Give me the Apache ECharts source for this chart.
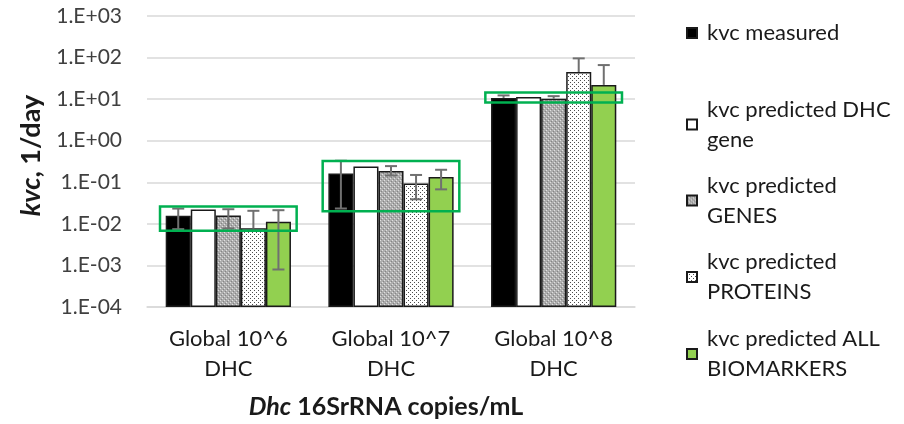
<!DOCTYPE html>
<html><head><meta charset="utf-8">
<script src="https://cdn.jsdelivr.net/npm/echarts@6/dist/echarts.min.js"></script>
<style>html,body{margin:0;padding:0;background:#fff}#c{width:904px;height:424px}</style>
</head><body><div id="c"></div>
<script>
// ---- data ----
const categories = ['Global 10^6\nDHC', 'Global 10^7\nDHC', 'Global 10^8\nDHC'];
const seriesNames = ['kvc measured', 'kvc predicted DHC gene', 'kvc predicted GENES', 'kvc predicted PROTEINS', 'kvc predicted ALL BIOMARKERS'];
const legendLabels = ['kvc measured', 'kvc predicted DHC\ngene', 'kvc predicted\nGENES', 'kvc predicted\nPROTEINS', 'kvc predicted ALL\nBIOMARKERS'];
const yTickLabels = ['1.E-04', '1.E-03', '1.E-02', '1.E-01', '1.E+00', '1.E+01', '1.E+02', '1.E+03'];

const measured      = [0.0156, 0.163, 10.7];
const dhcGene       = [0.0221, 0.24, 11.2];
const genes         = [0.0158, 0.186, 10.2];
const proteins      = [0.0078, 0.094, 45];
const allBiomarkers = [0.0112, 0.134, 22];

const measuredErrLow  = [0.00746, 0.0234, 10.7];
const measuredErrHigh = [0.0233, 0.33, 12.3];
const genesErrLow     = [0.00776, 0.146, 10.2];
const genesErrHigh    = [0.0225, 0.245, 11.8];
const proteinsErrLow  = [0.0078, 0.039, 45];
const proteinsErrHigh = [0.0206, 0.150, 95.7];
const allErrLow       = [0.000798, 0.0676, 22];
const allErrHigh      = [0.0213, 0.2, 66];

const highlightLow  = [0.00684, 0.0201, 8.3];
const highlightHigh = [0.026, 0.324, 14.5];

const axisMin = 1e-4;
const axisMax = 1e3;

// ---- styles ----
const FONT = 'Lato';
const BAR_FRAC = 0.154;

function makePattern(size, bg, dots) {
  const c = document.createElement('canvas');
  c.width = size; c.height = size;
  const ctx = c.getContext('2d');
  ctx.fillStyle = bg; ctx.fillRect(0, 0, size, size);
  dots.forEach(d => { ctx.fillStyle = d[2]; ctx.fillRect(d[0], d[1], 1, 1); });
  return { image: c, repeat: 'repeat' };
}
const grayPattern = makePattern(4, '#adadad', [[0,0,'#e0e0e0'],[2,2,'#e0e0e0'],[1,3,'#858585'],[3,1,'#858585']]);
const dotPattern  = makePattern(4, '#ffffff', [[0,0,'#4d4d4d'],[2,2,'#4d4d4d']]);

const barColors = ['#000000', '#ffffff', grayPattern, dotPattern, '#92d050'];
const values = [measured, dhcGene, genes, proteins, allBiomarkers];
const errs = [[measuredErrLow, measuredErrHigh], null, [genesErrLow, genesErrHigh], [proteinsErrLow, proteinsErrHigh], [allErrLow, allErrHigh]];

const series = [];
values.forEach((vals, i) => {
  series.push({
    name: seriesNames[i], type: 'bar', data: vals,
    barWidth: (BAR_FRAC * 100) + '%', barGap: '0%',
    itemStyle: { color: barColors[i], borderColor: '#1a1a1a', borderWidth: 1.5 },
    z: 2, silent: true
  });
});
errs.forEach((e, i) => {
  if (!e) return;
  const data = categories.map((c, k) => [k, e[0][k], e[1][k], values[i][k]]);
  series.push({
    type: 'custom', z: 5, silent: true,
    encode: { x: 0, y: [1, 2] },
    data: data,
    renderItem: function (params, api) {
      const cat = api.value(0), lo = api.value(1), hi = api.value(2), v = api.value(3);
      const band = api.size([1, 1], [cat, 1])[0];
      const bw = band * BAR_FRAC;
      const cx = api.coord([cat, v])[0] + (i - 2) * bw;
      const yHi = api.coord([cat, hi])[1];
      const yLo = api.coord([cat, lo])[1];
      const half = 6;
      const st = { stroke: '#707070', lineWidth: 2 };
      const ch = [{ type: 'line', shape: { x1: cx, y1: yHi, x2: cx, y2: yLo }, style: st }];
      if (hi > v) ch.push({ type: 'line', shape: { x1: cx - half, y1: yHi, x2: cx + half, y2: yHi }, style: st });
      if (lo < v) ch.push({ type: 'line', shape: { x1: cx - half, y1: yLo, x2: cx + half, y2: yLo }, style: st });
      return { type: 'group', children: ch };
    }
  });
});
series.push({
  type: 'custom', z: 6, silent: true,
  encode: { x: 0, y: [1, 2] },
  data: categories.map((c, k) => [k, highlightLow[k], highlightHigh[k]]),
  renderItem: function (params, api) {
    const cat = api.value(0);
    const band = api.size([1, 1], [cat, 1])[0];
    const p1 = api.coord([cat, api.value(2)]);
    const p2 = api.coord([cat, api.value(1)]);
    const hw = band * 0.42;
    return { type: 'rect', shape: { x: p1[0] - hw, y: p1[1], width: hw * 2, height: p2[1] - p1[1] },
      style: { fill: 'none', stroke: '#00b050', lineWidth: 2.5 } };
  }
});

const legendTops = [18.5, 79.5, 155.5, 232, 309];
const legends = seriesNames.map((n, i) => ({
  orient: 'vertical', left: 686, top: legendTops[i], padding: 0,
  itemWidth: 10, itemHeight: 10, icon: 'rect', selectedMode: false,
  data: [n],
  formatter: () => legendLabels[i],
  textStyle: { fontFamily: FONT, fontSize: 22, lineHeight: i === 0 ? 29 : 30, color: '#1a1a1a',
    padding: i === 0 ? [0, 0, 0, 5] : [30, 0, 0, 5] }
}));

const chart = echarts.init(document.getElementById('c'));
chart.setOption({
  animation: false,
  backgroundColor: '#ffffff',
  grid: { left: 147, right: 269, top: 16, bottom: 114 },
  legend: legends,
  xAxis: {
    type: 'category', data: categories,
    axisLine: { show: true, lineStyle: { color: '#d9d9d9', width: 1.5 } },
    axisTick: { show: false },
    axisLabel: { fontFamily: FONT, fontSize: 22, lineHeight: 30, color: '#1a1a1a', margin: 17, interval: 0 },
    name: '{i|Dhc}{b| 16SrRNA copies/mL}', nameLocation: 'middle', nameGap: 87,
    nameTextStyle: { padding: [0, 10, 0, 0], rich: {
      i: { fontFamily: FONT, fontSize: 25, fontWeight: 'bold', fontStyle: 'italic', color: '#1a1a1a' },
      b: { fontFamily: FONT, fontSize: 25, fontWeight: 'bold', color: '#1a1a1a' } } }
  },
  yAxis: {
    type: 'log', logBase: 10, min: axisMin, max: axisMax, splitNumber: 7, startValue: axisMin,
    axisLine: { show: false }, axisTick: { show: false },
    splitLine: { show: true, lineStyle: { color: '#d9d9d9', width: 1.5 } },
    minorTick: { show: false }, minorSplitLine: { show: false },
    axisLabel: { fontFamily: FONT, fontSize: 21, color: '#404040', margin: 25,
      formatter: v => yTickLabels[Math.round(Math.log10(v)) + 4] },
    name: '{i|kvc}{b|, 1/day}', nameLocation: 'middle', nameGap: 102, nameRotate: 90,
    nameTextStyle: { padding: [0, 0, 0, 12], rich: {
      i: { fontFamily: FONT, fontSize: 27, fontWeight: 'bold', fontStyle: 'italic', color: '#1a1a1a' },
      b: { fontFamily: FONT, fontSize: 27, fontWeight: 'bold', color: '#1a1a1a' } } }
  },
  series: series
});
</script></body></html>
